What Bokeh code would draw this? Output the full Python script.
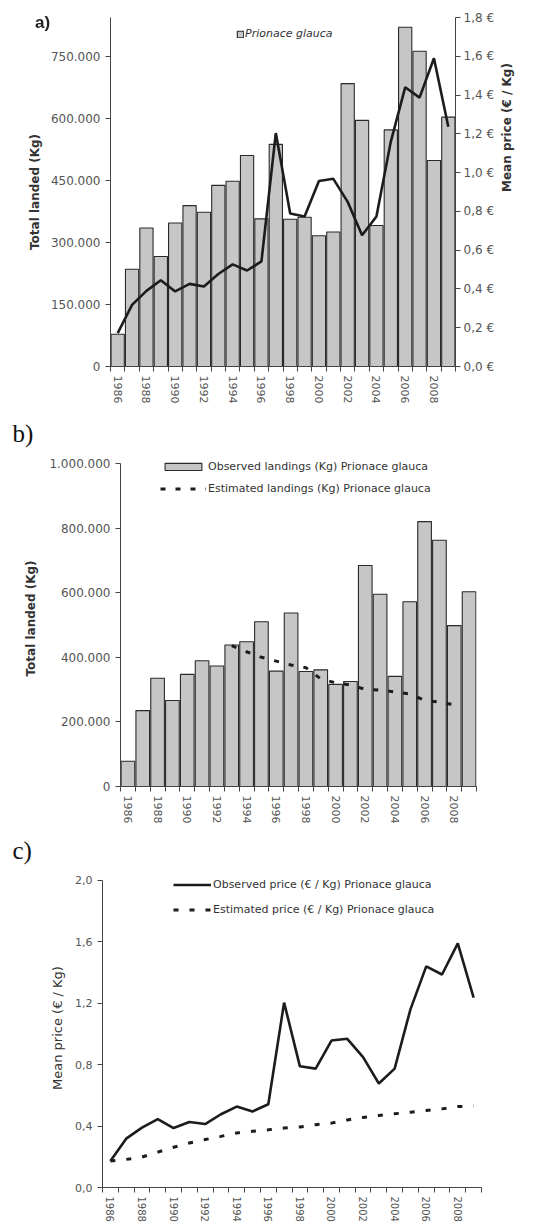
import math
from bokeh.plotting import figure
from bokeh.models import (Range1d, LinearAxis, FixedTicker, CustomJSTickFormatter,
                          Legend, LegendItem, Title, Div, Plot)
from bokeh.layouts import column
from bokeh.embed import file_html
from bokeh.resources import INLINE

# ---------------- data ----------------
years = list(range(1986, 2010))
label_years = list(range(1986, 2009, 2))
landings = [78000, 235000, 335000, 266000, 347000, 389000, 373000, 438000,
            448000, 510000, 357000, 537000, 356000, 361000, 316000, 325000,
            684000, 595000, 341000, 572000, 820000, 762000, 498000, 603000]
price_obs = [0.172, 0.318, 0.390, 0.445, 0.387, 0.426, 0.413, 0.477,
             0.527, 0.495, 0.542, 1.204, 0.789, 0.774, 0.957, 0.968,
             0.849, 0.677, 0.774, 1.160, 1.440, 1.387, 1.590, 1.237]
price_est = [0.172, 0.183, 0.198, 0.230, 0.262, 0.290, 0.312, 0.333,
             0.355, 0.366, 0.376, 0.387, 0.394, 0.409, 0.419, 0.440,
             0.456, 0.469, 0.480, 0.490, 0.501, 0.512, 0.527, 0.531]
est_years = list(range(1993, 2009))
landings_est = [436000, 417000, 400000, 388000, 376000, 368000, 333000, 321000,
                314000, 301000, 298000, 293000, 286000, 267000, 261000, 253000]

ticks_a_left = [0, 150000, 300000, 450000, 600000, 750000]
labels_a_left = ["0", "150.000", "300.000", "450.000", "600.000", "750.000"]
ticks_a_right = [0.0, 0.2, 0.4, 0.6, 0.8, 1.0, 1.2, 1.4, 1.6, 1.8]
labels_a_right = ["0,0 €", "0,2 €", "0,4 €", "0,6 €", "0,8 €", "1,0 €",
                  "1,2 €", "1,4 €", "1,6 €", "1,8 €"]
ticks_b = [0, 200000, 400000, 600000, 800000, 1000000]
labels_b = ["0", "200.000", "400.000", "600.000", "800.000", "1.000.000"]
ticks_c = [0.0, 0.4, 0.8, 1.2, 1.6, 2.0]
labels_c = ["0,0", "0,4", "0,8", "1,2", "1,6", "2,0"]

FONT = "DejaVu Sans"
BAR_FILL = "#c6c6c6"
BAR_LINE = "#2a2a2a"
INK = "#1c1c1c"
TICK_TXT = "#555555"
AX = "#444444"
HAS_FRAME_ALIGN = "frame_align" in Plot.properties()
HAS_LABEL_ORIENT = "axis_label_orientation" in LinearAxis.properties()


def base_fig(width, height, left, right, top, bottom, yr):
    p = figure(width=width, height=height, output_backend="svg",
               toolbar_location=None, x_range=Range1d(1985.5, 2009.5),
               y_range=yr, min_border_left=left, min_border_right=right,
               min_border_top=top, min_border_bottom=bottom)
    if HAS_FRAME_ALIGN:
        p.frame_align = False
    p.outline_line_color = None
    p.xgrid.visible = False
    p.ygrid.visible = False
    p.background_fill_color = "white"
    p.border_fill_color = "white"
    return p


def style_x(p, size="11px"):
    ax = p.xaxis[0]
    ax.ticker = FixedTicker(ticks=label_years,
                            minor_ticks=[y - 0.5 for y in years] + [years[-1] + 0.5])
    ax.formatter = CustomJSTickFormatter(code="return tick.toFixed(0);")
    ax.major_tick_out = 0
    ax.major_tick_in = 0
    ax.minor_tick_out = 5
    ax.minor_tick_in = 0
    ax.minor_tick_line_color = AX
    ax.axis_line_color = AX
    ax.major_label_orientation = -math.pi / 2
    ax.major_label_standoff = 4
    ax.major_label_text_font = FONT
    ax.major_label_text_font_size = size
    ax.major_label_text_color = TICK_TXT


def style_y(ax, ticks, labels, size, title, title_size, bold, standoff, title_standoff):
    ax.ticker = FixedTicker(ticks=ticks)
    ax.major_label_overrides = {t: l for t, l in zip(ticks, labels)}
    ax.major_tick_out = 5
    ax.major_tick_in = 0
    ax.minor_tick_out = 0
    ax.minor_tick_in = 0
    ax.axis_line_color = AX
    ax.major_tick_line_color = AX
    ax.major_label_text_font = FONT
    ax.major_label_text_font_size = size
    ax.major_label_text_color = TICK_TXT
    ax.major_label_standoff = standoff
    ax.axis_label = title
    ax.axis_label_text_font = FONT
    ax.axis_label_text_font_size = title_size
    ax.axis_label_text_font_style = "bold" if bold else "normal"
    ax.axis_label_text_color = "#333333"
    ax.axis_label_standoff = title_standoff


def legend(items, loc, gw, gh, spacing, standoff):
    return Legend(items=items, location=loc, padding=0, margin=0, spacing=spacing,
                  glyph_width=gw, glyph_height=gh, label_height=gh,
                  label_standoff=standoff, background_fill_alpha=0,
                  border_line_color=None, label_text_font=FONT,
                  label_text_font_size="11px", label_text_color="#333333")


def panel_title(text, offset, standoff):
    return Title(text=text, align="left", offset=offset, standoff=standoff,
                 text_font="Liberation Serif", text_font_size="25px",
                 text_font_style="normal", text_color="#111111")


# ---------------- panel a ----------------
pA = base_fig(554, 407, 110, 99, 17, 41, Range1d(0, 843750))
pA.extra_y_ranges = {"price": Range1d(0, 1.8)}
barsA = pA.vbar(x=years, top=landings, width=0.92, fill_color=BAR_FILL,
                line_color=BAR_LINE, line_width=1.1)
pA.line(years, price_obs, y_range_name="price", line_width=2.6, color=INK)
style_x(pA)
style_y(pA.yaxis[0], ticks_a_left, labels_a_left, "12px", "Total landed (Kg)",
        "12px", True, 5, 6)
rA = LinearAxis(y_range_name="price")
pA.add_layout(rA, "right")
style_y(rA, ticks_a_right, labels_a_right, "12px", "Mean price (€ / Kg)",
        "12px", True, 3, 10)
if HAS_LABEL_ORIENT:
    rA.axis_label_orientation = math.pi / 2
legA = legend([LegendItem(label="Prionace glauca", renderers=[barsA])],
              (126, 326), 8, 8, 0, 1)
legA.label_text_font_style = "italic"
pA.add_layout(legA)

# ---------------- panel b ----------------
# frame reaches a little above the top tick so that the legend is not clipped;
# the axis line itself stops at the top tick
pB = base_fig(554, 420, 120, 78, 43, 41, Range1d(0, 1040000))
barsB = pB.vbar(x=years, top=landings, width=0.92, fill_color=BAR_FILL,
                line_color=BAR_LINE, line_width=1.1)
estB = pB.line(est_years, landings_est, line_width=3, color=INK, line_dash="5 10")
style_x(pB)
style_y(pB.yaxis[0], ticks_b, labels_b, "12px", "Total landed (Kg)", "12px",
        True, 5, 8)
pB.yaxis[0].bounds = (ticks_b[0], ticks_b[-1])
legB = legend([LegendItem(label="Observed landings (Kg) Prionace glauca", renderers=[barsB]),
               LegendItem(label="Estimated landings (Kg) Prionace glauca", renderers=[estB])],
              (40, 291), 46, 9, 9, 2)
pB.add_layout(legB)
pB.add_layout(panel_title("b)", -108, 8), "above")

# ---------------- panel c ----------------
pC = base_fig(554, 397, 102, 73, 41, 34, Range1d(0, 2.077))
obsC = pC.line(years, price_obs, line_width=2.6, color=INK)
estC = pC.line(years, price_est, line_width=3, color=INK, line_dash="5 11")
style_x(pC, "10px")
style_y(pC.yaxis[0], ticks_c, labels_c, "11px", "Mean price (€ / Kg)", "13px",
        False, 5, 7)
pC.yaxis[0].bounds = (ticks_c[0], ticks_c[-1])
legC = legend([LegendItem(label="Observed price (€ / Kg) Prionace glauca", renderers=[obsC]),
               LegendItem(label="Estimated price (€ / Kg) Prionace glauca", renderers=[estC])],
              (71, 271), 38, 9, 12, 2)
pC.add_layout(legC)
pC.add_layout(panel_title("c)", -90, 10), "above")

# panel letter "a)" sits beside the frame of panel a
divA = Div(text="<span style=\"font-family:'Liberation Sans';font-size:17px;"
                "font-weight:bold;color:#222222;\">a)</span>",
           width=24, height=22,
           styles={"position": "fixed", "left": "35px", "top": "11px", "margin": "0"})

children = [pA, pB, pC, divA]
if not HAS_LABEL_ORIENT:
    rA.axis_label = None
    children.append(Div(text="<span style=\"font-family:'DejaVu Sans';font-size:12px;"
                             "font-weight:bold;color:#333333;white-space:nowrap;\">"
                             "Mean price (€ / Kg)</span>",
                        width=140, height=16,
                        styles={"position": "fixed", "left": "443px", "top": "184px",
                                "transform": "rotate(-90deg)", "margin": "0"}))

layout = column(*children, spacing=0)
open("out.html", "w").write(file_html(layout, INLINE))
